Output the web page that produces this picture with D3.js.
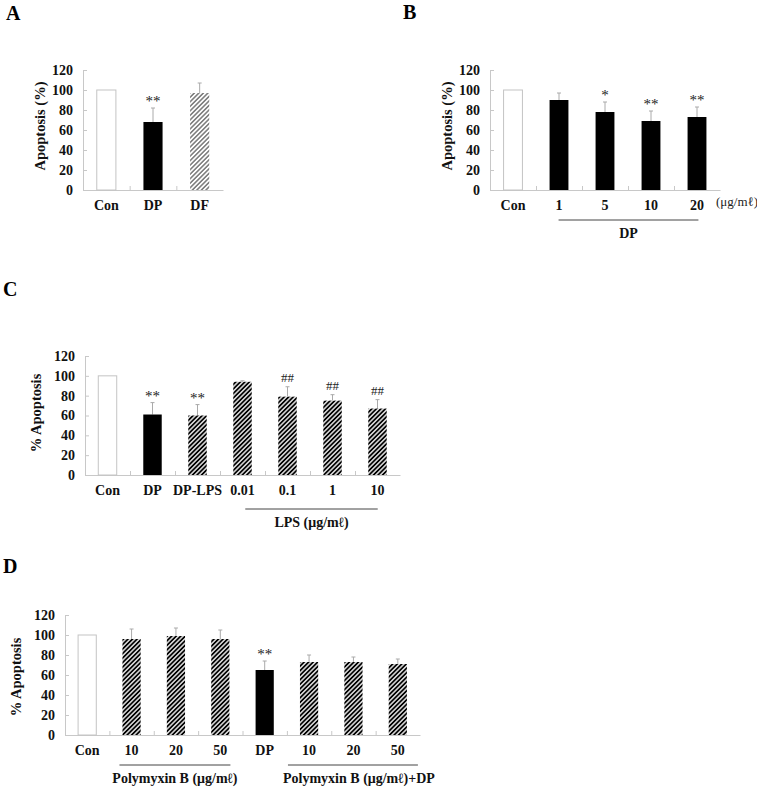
<!DOCTYPE html>
<html>
<head>
<meta charset="utf-8">
<script src="https://d3js.org/d3.v7.min.js"></script>
<style>
  body { margin: 0; background: #fff; }
  text { font-family: "Liberation Serif", "Times New Roman", serif; }
</style>
</head>
<body>
<div id="fig"></div>
<script>
// values (percent apoptosis, upper error = mean + SD)
var yTicks = [0, 20, 40, 60, 80, 100, 120];

var catsA = ["Con", "DP", "DF"];
var valsA = [100, 68, 97];
var errA  = [0, 14, 10];
var markA = ["", "**", ""];

var catsB = ["Con", "1", "5", "10", "20"];
var valsB = [100, 90, 78, 69, 73];
var errB  = [0, 7, 10, 10, 10];
var markB = ["", "", "*", "**", "**"];

var catsC = ["Con", "DP", "DP-LPS", "0.01", "0.1", "1", "10"];
var valsC = [100, 61, 60, 94, 79, 75, 67];
var errC  = [0, 12, 11, 1, 10, 6, 9];
var markC = ["", "**", "**", "", "##", "##", "##"];

var catsD = ["Con", "10", "20", "50", "DP", "10", "20", "50"];
var valsD = [100, 96, 99, 96, 65, 73, 73, 71];
var errD  = [0, 10, 8, 9, 9, 7, 5, 5];
var markD = ["", "", "", "", "**", "", "", ""];

var W = 757, H = 793;
var svg = d3.select("#fig").append("svg").attr("width", W).attr("height", H);

var defs = svg.append("defs");
function hatch(id, gap, sw, col) {
  var p = defs.append("pattern").attr("id", id)
    .attr("patternUnits", "userSpaceOnUse")
    .attr("width", gap).attr("height", gap)
    .attr("patternTransform", "rotate(45)");
  p.append("rect").attr("width", gap).attr("height", gap).attr("fill", "#fff");
  p.append("line").attr("x1", gap / 2).attr("y1", 0).attr("x2", gap / 2).attr("y2", gap)
    .attr("stroke", col).attr("stroke-width", sw);
}
hatch("hatchDark", 3.2, 1.9, "#000");
hatch("hatchLight", 3.2, 1.0, "#333");

var fills = { open: "#fff", solid: "#000", dark: "url(#hatchDark)", light: "url(#hatchLight)" };
var axisCol = "#c8c8c8";

function panel(o) {
  var g = svg.append("g");
  var x = d3.scaleBand().domain(d3.range(o.cats.length))
    .range([o.x0, o.x1]).paddingInner(0.59).paddingOuter(0.295);
  var y = d3.scaleLinear().domain([0, 120]).range([o.y0, o.y1]);

  // y axis
  var ya = g.append("g").attr("transform", "translate(" + o.x0 + ",0)")
    .call(d3.axisLeft(y).tickValues(yTicks).tickSizeInner(-4).tickSizeOuter(0).tickPadding(10));
  ya.select(".domain").attr("stroke", axisCol);
  ya.selectAll(".tick line").attr("stroke", axisCol);
  ya.selectAll(".tick text").attr("font-family", null).attr("font-weight", "bold")
    .attr("font-size", 14).attr("fill", "#111");

  // x axis, ticks only at the category boundaries
  var step = x.step();
  var bounds = d3.range(1, o.cats.length).map(function (i) { return o.x0 + step * i; });
  var xs = d3.scaleLinear().domain([o.x0, o.x1]).range([o.x0, o.x1]);
  var xa = g.append("g").attr("transform", "translate(0," + o.y0 + ")")
    .call(d3.axisBottom(xs).tickValues(bounds).tickSizeInner(-4).tickSizeOuter(0).tickFormat(""));
  xa.select(".domain").attr("stroke", axisCol);
  xa.selectAll(".tick line").attr("stroke", axisCol);

  // axis title
  g.append("text")
    .attr("transform", "translate(" + o.tx + "," + o.ty + ") rotate(-90)")
    .attr("text-anchor", "middle").attr("font-weight", "bold").attr("font-size", 14.5)
    .attr("fill", "#111").text(o.title);

  // error bars (upper only)
  o.vals.forEach(function (v, i) {
    if (!o.errs[i]) return;
    var cx = x(i) + x.bandwidth() / 2;
    g.append("line").attr("x1", cx).attr("x2", cx)
      .attr("y1", y(v)).attr("y2", y(v + o.errs[i]))
      .attr("stroke", "#aaa").attr("stroke-width", 1);
    g.append("line").attr("x1", cx - 2).attr("x2", cx + 2)
      .attr("y1", y(v + o.errs[i])).attr("y2", y(v + o.errs[i]))
      .attr("stroke", "#aaa").attr("stroke-width", 1);
  });

  // bars
  g.selectAll("rect.bar").data(o.vals).enter().append("rect")
    .attr("class", "bar")
    .attr("x", function (d, i) { return x(i); })
    .attr("y", function (d) { return y(d); })
    .attr("width", x.bandwidth())
    .attr("height", function (d) { return y(0) - y(d); })
    .attr("fill", function (d, i) { return fills[o.kind[i]]; })
    .attr("stroke", function (d, i) { return o.kind[i] === "open" ? "#c4c4c4" : "none"; })
    .attr("stroke-width", 1);

  // significance marks
  g.selectAll("text.mark").data(o.marks).enter().append("text")
    .attr("class", "mark")
    .attr("x", function (d, i) { return x(i) + x.bandwidth() / 2; })
    .attr("y", function (d, i) {
      return y(o.vals[i] + o.errs[i]) - (d.indexOf("#") >= 0 ? 5 : 2);
    })
    .attr("text-anchor", "middle")
    .attr("font-size", function (d) { return d.indexOf("#") >= 0 ? 13 : 15; })
    .attr("fill", "#222")
    .text(function (d) { return d; });

  // category labels
  g.selectAll("text.cat").data(o.cats).enter().append("text")
    .attr("class", "cat")
    .attr("x", function (d, i) { return x(i) + x.bandwidth() / 2; })
    .attr("y", o.y0 + 20)
    .attr("text-anchor", "middle").attr("font-weight", "bold").attr("font-size", 14)
    .attr("fill", "#111")
    .text(function (d) { return d; });

  // grouping lines
  (o.groups || []).forEach(function (gr) {
    var xa0 = x(gr.from) + gr.pad[0], xa1 = x(gr.to) + x.bandwidth() + gr.pad[1];
    g.append("line").attr("x1", xa0).attr("x2", xa1)
      .attr("y1", o.y0 + gr.dy).attr("y2", o.y0 + gr.dy)
      .attr("stroke", "#444").attr("stroke-width", 1);
    g.append("text").attr("x", (xa0 + xa1) / 2 + (gr.shift || 0)).attr("y", o.y0 + gr.dy + 18)
      .attr("text-anchor", "middle").attr("font-weight", "bold").attr("font-size", 14)
      .attr("fill", "#111").text(gr.label);
  });

  // panel letter
  svg.append("text").attr("x", o.lx).attr("y", o.ly)
    .attr("font-weight", "bold").attr("font-size", 20).attr("fill", "#000").text(o.letter);
  return { x: x, y: y };
}

panel({
  letter: "A", lx: 6, ly: 20,
  cats: catsA, vals: valsA, errs: errA, marks: markA,
  kind: ["open", "solid", "light"],
  x0: 83, x1: 223, y0: 190, y1: 70,
  title: "Apoptosis (%)", tx: 45, ty: 126
});

panel({
  letter: "B", lx: 403, ly: 19,
  cats: catsB, vals: valsB, errs: errB, marks: markB,
  kind: ["open", "solid", "solid", "solid", "solid"],
  x0: 490, x1: 720, y0: 190, y1: 70,
  title: "Apoptosis (%)", tx: 452, ty: 126,
  groups: [{ from: 1, to: 4, pad: [9, -8], dy: 30, label: "DP" }]
});
svg.append("text").attr("x", 716).attr("y", 206)
  .attr("font-family", "Liberation Sans").attr("font-size", 13).attr("fill", "#222")
  .text("(μg/mℓ)");

panel({
  letter: "C", lx: 3, ly: 296,
  cats: catsC, vals: valsC, errs: errC, marks: markC,
  kind: ["open", "solid", "dark", "dark", "dark", "dark", "dark"],
  x0: 85, x1: 400, y0: 475, y1: 356,
  title: "% Apoptosis", tx: 41, ty: 413,
  groups: [{ from: 3, to: 6, pad: [12, -9], dy: 34, label: "LPS (μg/mℓ)" }]
});

panel({
  letter: "D", lx: 3, ly: 573,
  cats: catsD, vals: valsD, errs: errD, marks: markD,
  kind: ["open", "dark", "dark", "dark", "solid", "dark", "dark", "dark"],
  x0: 65, x1: 420, y0: 735, y1: 615,
  title: "% Apoptosis", tx: 21, ty: 677,
  groups: [
    { from: 1, to: 3, pad: [-3, 1], dy: 30, label: "Polymyxin B (μg/mℓ)", shift: 0 },
    { from: 5, to: 7, pad: [-12, 11], dy: 30, label: "Polymyxin B (μg/mℓ)+DP", shift: 6 }
  ]
});
</script>
</body>
</html>
